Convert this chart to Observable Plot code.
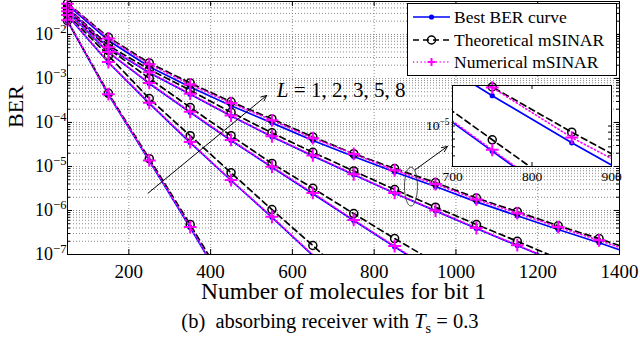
<!DOCTYPE html>
<html><head><meta charset="utf-8">
<script src="https://cdn.jsdelivr.net/npm/d3@7"></script>
<script src="https://cdn.jsdelivr.net/npm/@observablehq/plot@0.6"></script>
<style>
html,body{margin:0;padding:0;background:#fff;}
#wrap{position:relative;width:640px;height:343px;overflow:hidden;font-family:"Liberation Serif","Times New Roman",serif;}
#wrap svg{display:block;}
#main{position:absolute;left:0;top:0;width:640px;}
#inset{position:absolute;left:400px;top:80px;width:226px;}
#legend{position:absolute;left:406px;top:2px;width:212px;}
#caption{position:absolute;left:0;top:309px;width:640px;text-align:center;font-size:20.5px;line-height:24px;padding-left:20px;box-sizing:border-box;color:#000;}
</style></head>
<body><div id="wrap"><div id="main"></div><div id="legend"></div><div id="inset"></div>
<div id="caption">(b)&nbsp; absorbing receiver with <i>T</i><sub style="font-size:0.7em;line-height:0">s</sub> = 0.3</div></div>
<script>
// ---- data ----
const xs = [50,150,250,350,450,550,650,750,850,950,1050,1150,1250,1350,1450];
const Ls = [1,2,3,5,8];
const best_L1 = [2.0e-2, 4.3e-4, 1.35e-5, 4.1e-7, 1.1e-8];
const theo_L1 = [2.05e-2, 4.6e-4, 1.5e-5, 4.8e-7, 1.4e-8];
const num_L1  = [2.1e-2, 4.4e-4, 1.37e-5, 4.2e-7, 1.15e-8];
const best_L2 = [2.7e-2, 2.3e-3, 2.7e-4, 3.5e-5, 4.8e-6, 7.0e-7, 9.5e-8, 1.3e-8];
const theo_L2 = [2.85e-2, 3.3e-3, 3.5e-4, 5.0e-5, 7.2e-6, 1.05e-6, 1.6e-7, 2.2e-8];
const num_L2  = [2.75e-2, 2.35e-3, 2.8e-4, 3.6e-5, 4.9e-6, 7.2e-7, 9.8e-8, 1.35e-8];
const best_L3 = [3.3e-2, 3.9e-3, 7.7e-4, 1.7e-4, 3.9e-5, 9.6e-6, 2.4e-6, 5.9e-7, 1.5e-7, 3.9e-8];
const theo_L3 = [3.5e-2, 4.8e-3, 1.0e-3, 2.2e-4, 5.0e-5, 1.17e-5, 3.2e-6, 8.5e-7, 2.3e-7, 6.6e-8];
const num_L3  = [3.35e-2, 4.0e-3, 7.9e-4, 1.75e-4, 4.0e-5, 9.9e-6, 2.5e-6, 6.1e-7, 1.55e-7, 4.0e-8];
const best_L5 = [3.9e-2, 5.0e-3, 1.35e-3, 4.4e-4, 1.4e-4, 4.75e-5, 1.74e-5, 6.5e-6, 2.46e-6, 9.8e-7, 3.9e-7, 1.6e-7, 6.6e-8];
const theo_L5 = [4.1e-2, 5.6e-3, 1.6e-3, 5.4e-4, 1.7e-4, 5.8e-5, 2.1e-5, 7.9e-6, 3.0e-6, 1.19e-6, 4.8e-7, 2.0e-7, 8.1e-8];
const num_L5  = [4.0e-2, 5.1e-3, 1.38e-3, 4.5e-4, 1.43e-4, 4.85e-5, 1.78e-5, 6.65e-6, 2.5e-6, 1.0e-6, 4.0e-7, 1.63e-7, 6.7e-8];
const best_L8 = [4.7e-2, 7.3e-3, 1.85e-3, 6.4e-4, 2.4e-4, 9.8e-5, 3.9e-5, 1.68e-5, 7.5e-6, 3.5e-6, 1.57e-6, 7.6e-7, 3.7e-7, 1.85e-7, 8.8e-8];
const theo_L8 = [5.1e-2, 8.6e-3, 2.25e-3, 7.9e-4, 2.95e-4, 1.2e-4, 4.7e-5, 1.95e-5, 9.0e-6, 4.3e-6, 1.92e-6, 9.4e-7, 4.5e-7, 2.3e-7, 1.1e-7];
const num_L8  = [5.0e-2, 8.1e-3, 2.1e-3, 7.3e-4, 2.75e-4, 1.12e-4, 4.4e-5, 1.93e-5, 8.2e-6, 4.0e-6, 1.78e-6, 8.7e-7, 4.2e-7, 2.1e-7, 1.0e-7];
const xTicks = [200,400,600,800,1000,1200,1400];
const yTicks = [1e-7,1e-6,1e-5,1e-4,1e-3,1e-2];
const insetXTicks = [700,800,900];
const insetYTicks = [1e-5];
const legendLabels = ["Best BER curve","Theoretical mSINAR","Numerical mSINAR"];
const Llabel = "= 1, 2, 3, 5, 8";

// ---- build tables ----
const sets = {
  best: [best_L1,best_L2,best_L3,best_L5,best_L8],
  theo: [theo_L1,theo_L2,theo_L3,theo_L5,theo_L8],
  num:  [num_L1,num_L2,num_L3,num_L5,num_L8]
};
function rows(key){ return Ls.flatMap((L,i)=> sets[key][i].map((v,j)=>({L, x: xs[j], y: v}))); }
const minorY = d3.range(-7,-1).flatMap(e => d3.range(1,10).map(m => m*Math.pow(10,e))).filter(v => v <= 0.056);
const insetMinorY = [5e-6,6e-6,7e-6,8e-6,9e-6,1e-5,2e-5];
const FONT = '"Liberation Serif", "Times New Roman", serif';

const lineStyle = {
  best: {stroke:"#0000ff", strokeWidth:1.7},
  theo: {stroke:"#000000", strokeWidth:1.7, strokeDasharray:"6,4"},
  num:  {stroke:"#ff00ff", strokeWidth:1.6, strokeDasharray:"1.2,2.6"}
};
function seriesMarks(key, keep){
  const data = rows(key);
  const line = Plot.line(data, {x:"x", y:"y", z:"L", ...lineStyle[key], clip:true});
  const pts = data.filter(keep);
  let dot;
  if (key === "best") dot = Plot.dot(pts, {x:"x", y:"y", r:2.6, fill:"#0000ff", stroke:"none"});
  else if (key === "theo") dot = Plot.dot(pts, {x:"x", y:"y", r:4, fill:"none", stroke:"#000", strokeWidth:1.5});
  else dot = Plot.dot(pts, {x:"x", y:"y", symbol:"plus", r:4.2, stroke:"#ff00ff", strokeWidth:2});
  return [line, dot];
}

// ---- main chart ----
const W = 640, H = 305, mL = 67, mR = 21, mT = 1, mB = 51;
const fw = W - mL - mR, fh = H - mT - mB;
const ellipse = {draw(c){ const rx=6.5, ry=19.5, k=0.5523;
  c.moveTo(rx,0); c.bezierCurveTo(rx,ry*k,rx*k,ry,0,ry); c.bezierCurveTo(-rx*k,ry,-rx,ry*k,-rx,0);
  c.bezierCurveTo(-rx,-ry*k,-rx*k,-ry,0,-ry); c.bezierCurveTo(rx*k,-ry,rx,-ry*k,rx,0); c.closePath(); }};
const arrowsAnn = [
  {x1:247, y1:2.47e-6, x2:537, y2:4.1e-4},
  {x1:901, y1:8.5e-6, x2:979, y2:2.85e-5}
];
const keepMain = d => d.x <= 1400 && d.y >= 1e-7;

const main = Plot.plot({
  width: W, height: H, marginLeft: mL, marginRight: mR, marginTop: mT, marginBottom: mB,
  style: {fontFamily: FONT, background: "white", color: "black", overflow: "visible"},
  x: {domain: [50, 1400]},
  y: {type: "log", domain: [1e-7, 0.056]},
  marks: [
    Plot.gridY(minorY, {stroke:"#8a8a8a", strokeOpacity:1, strokeDasharray:"1,2", strokeWidth:1}),
    Plot.gridX(xTicks, {stroke:"#8a8a8a", strokeOpacity:1, strokeDasharray:"1,2", strokeWidth:1}),
    ...seriesMarks("best", keepMain),
    ...seriesMarks("theo", keepMain),
    ...seriesMarks("num", keepMain),
    Plot.arrow(arrowsAnn, {x1:"x1", y1:"y1", x2:"x2", y2:"y2", stroke:"#000", strokeWidth:1, headLength:9, headAngle:50}),
    Plot.dot([{x:890, y:3.5e-6}], {x:"x", y:"y", symbol: ellipse, stroke:"#333", strokeWidth:0.9, fill:"none"}),
    Plot.text([{x:562, y:5.3e-4}], {x:"x", y:"y", text: () => "L", fontStyle:"italic", fontSize:21, textAnchor:"start", fontFamily: FONT}),
    Plot.text([{x:562, y:5.3e-4}], {x:"x", y:"y", text: () => Llabel, fontSize:21, textAnchor:"start", dx:17, fontFamily: FONT}),
    Plot.frame({stroke:"#000", strokeWidth:1}),
    Plot.ruleX(xTicks, {insetTop: fh - 5, stroke:"#000"}),
    Plot.ruleX(xTicks, {insetBottom: fh - 5, stroke:"#000"}),
    Plot.ruleY(yTicks, {insetRight: fw - 5, stroke:"#000"}),
    Plot.ruleY(yTicks, {insetLeft: fw - 5, stroke:"#000"}),
    Plot.ruleY(minorY, {insetRight: fw - 3, stroke:"#000"}),
    Plot.ruleY(minorY, {insetLeft: fw - 3, stroke:"#000"}),
    Plot.axisX(xTicks, {anchor:"bottom", tickSize:0, tickPadding:10, fontSize:19, label:null, fontFamily: FONT,
      tickFormat: d => String(d)}),
    Plot.axisY(yTicks, {anchor:"left", tickSize:0, tickPadding:1, fontSize:18, label:null, fontFamily: FONT,
      tickFormat: d => "10^" + Math.round(Math.log10(d))}),
    Plot.text(["Number of molecules for bit 1"], {frameAnchor:"bottom", dy:44, fontSize:23.5, text: d => d, fontFamily: FONT}),
    Plot.text(["BER"], {frameAnchor:"left", dx:-52, rotate:-90, fontSize:22, text: d => d, fontFamily: FONT})
  ]
});

// ---- inset ----
const keepInset = d => d.x >= 700 && d.x <= 900 && d.y >= 5e-6 && d.y <= 2.05e-5;
const iW = 226, iH = 108, iL = 52, iR = 15, iT = 5, iB = 22;
const ifw = iW - iL - iR, ifh = iH - iT - iB;
const inset = Plot.plot({
  width: iW, height: iH, marginLeft: iL, marginRight: iR, marginTop: iT, marginBottom: iB,
  style: {fontFamily: FONT, background: "transparent", color:"black", overflow:"visible"},
  x: {domain: [700, 900]},
  y: {type: "log", domain: [5e-6, 2e-5]},
  marks: [
    Plot.frame({fill:"white", stroke:null}),
    ...seriesMarks("best", keepInset),
    ...seriesMarks("theo", keepInset),
    ...seriesMarks("num", keepInset),
    Plot.frame({stroke:"#000", strokeWidth:1}),
    Plot.ruleX(insetXTicks, {insetTop: ifh - 4, stroke:"#000"}),
    Plot.ruleX(insetXTicks, {insetBottom: ifh - 4, stroke:"#000"}),
    Plot.ruleY(insetMinorY, {insetRight: ifw - 3, stroke:"#000"}),
    Plot.ruleY(insetMinorY, {insetLeft: ifw - 3, stroke:"#000"}),
    Plot.axisX(insetXTicks, {anchor:"bottom", tickSize:0, tickPadding:5, fontSize:13.5, label:null, fontFamily: FONT,
      tickFormat: d => String(d)}),
    Plot.axisY(insetYTicks, {anchor:"left", tickSize:0, tickPadding:3, fontSize:13.5, label:null, fontFamily: FONT,
      tickFormat: d => "10^" + Math.round(Math.log10(d))})
  ]
});

// superscripts for power-of-ten labels
const ns = "http://www.w3.org/2000/svg";
function supify(svg){
  svg.querySelectorAll("text").forEach(t => {
    const m = /^10\^(-?\d+)$/.exec(t.textContent);
    if (!m) return;
    t.textContent = "";
    const a = document.createElementNS(ns, "tspan"); a.textContent = "10";
    const b = document.createElementNS(ns, "tspan"); b.textContent = m[1].replace("-", "\u2212");
    b.setAttribute("dy", "-0.55em"); b.setAttribute("font-size", "0.7em");
    t.append(a, b);
  });
}
supify(main); supify(inset);
document.getElementById("main").appendChild(main);
document.getElementById("inset").appendChild(inset);

// ---- legend ----
function el(tag, attrs, parent){ const e = document.createElementNS(ns, tag); for (const k in attrs) e.setAttribute(k, attrs[k]); if (parent) parent.appendChild(e); return e; }
const lg = el("svg", {width:212, height:76});
el("rect", {x:1.5, y:1.5, width:209, height:72, fill:"#fff", stroke:"#000", "stroke-width":1}, lg);
const keys = ["best","theo","num"], rowY = [15, 38, 60];
keys.forEach((k, i) => {
  const y = rowY[i], s = lineStyle[k];
  el("line", {x1:7, x2:44, y1:y, y2:y, stroke:s.stroke, "stroke-width":s.strokeWidth, "stroke-dasharray":s.strokeDasharray || "none"}, lg);
  if (k === "best") el("circle", {cx:25.5, cy:y, r:2.6, fill:"#0000ff"}, lg);
  else if (k === "theo") el("circle", {cx:25.5, cy:y, r:4, fill:"none", stroke:"#000", "stroke-width":1.5}, lg);
  else el("path", {d:`M21.5,${y}H29.5M25.5,${y-4}V${y+4}`, stroke:"#ff00ff", "stroke-width":2, fill:"none"}, lg);
  const t = el("text", {x:48, y:y, "dominant-baseline":"central", "font-size":17.5, fill:"#000"}, lg);
  t.style.fontFamily = FONT;
  t.textContent = legendLabels[i];
});
document.getElementById("legend").appendChild(lg);
</script></body></html>
